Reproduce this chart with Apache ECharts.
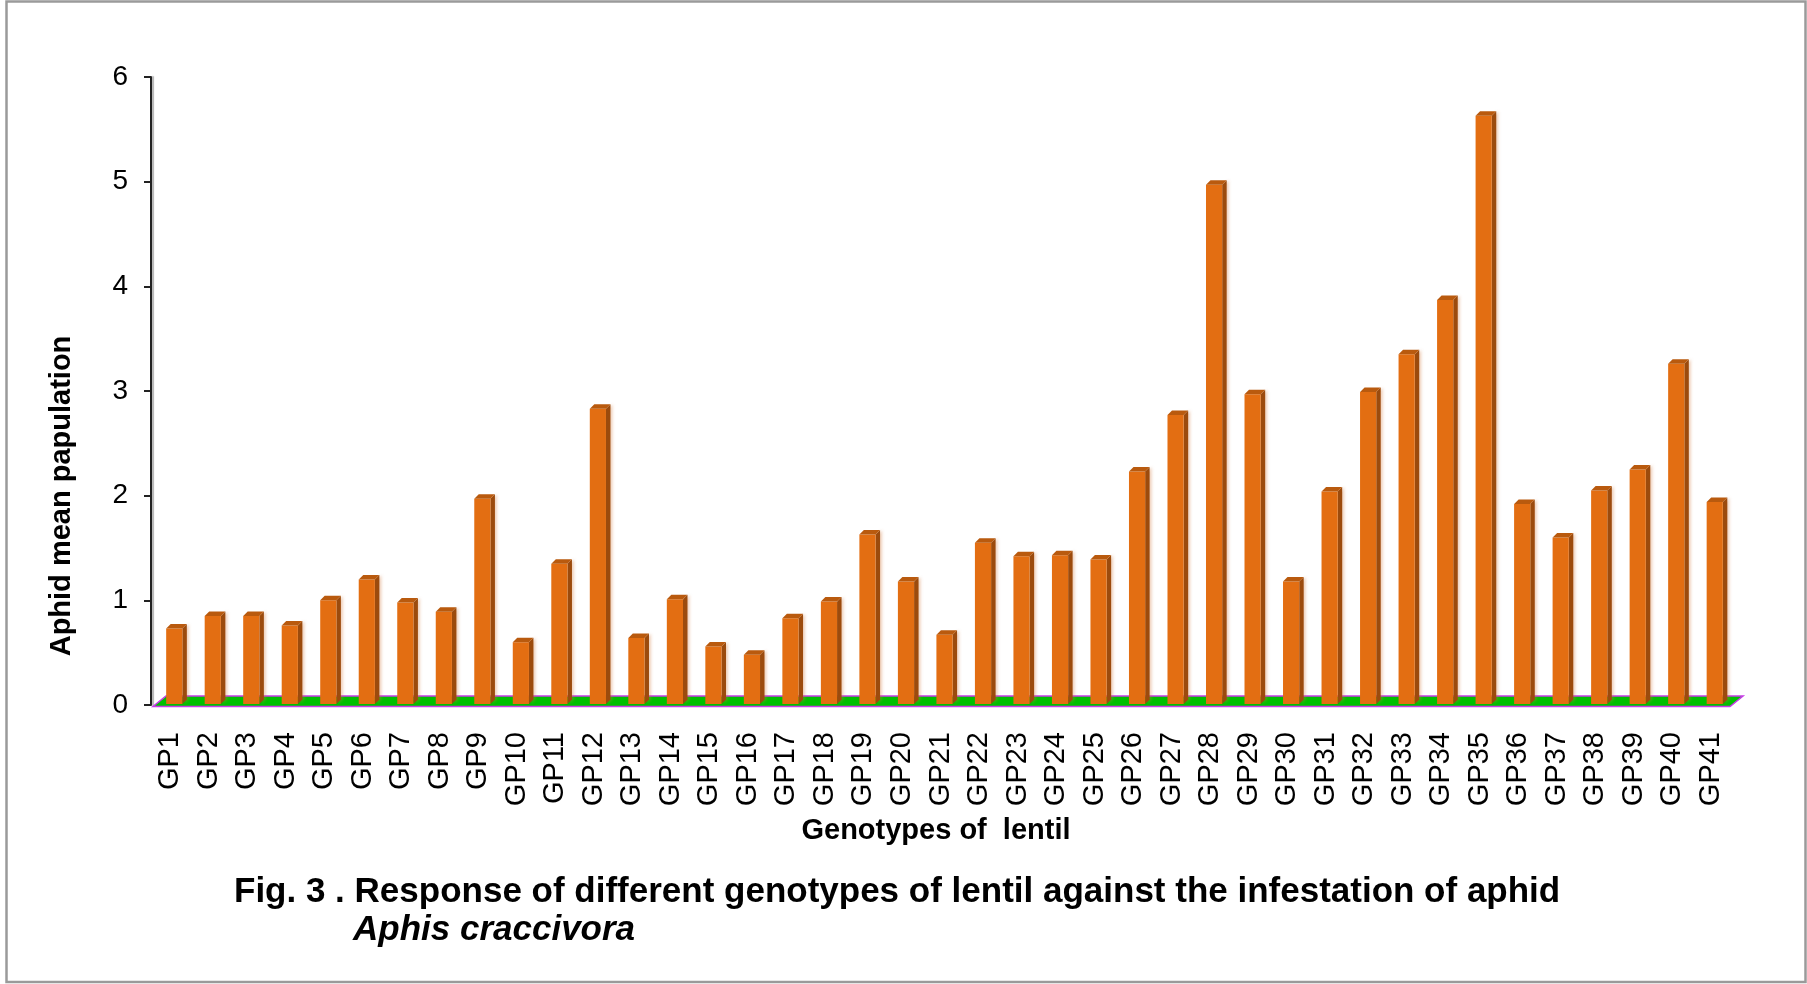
<!DOCTYPE html>
<html>
<head>
    <meta charset="utf-8">
    <title>Aphid mean population</title>
    <script src="https://cdn.jsdelivr.net/npm/echarts@6/dist/echarts.min.js"></script>
    <style>
        html, body { margin: 0; padding: 0; background: #fff; }
        #chart { width: 1807px; height: 984px; }
    </style>
</head>
<body>
<div id="chart"></div>
<script type="text/javascript">
    // genotypes of lentil
    var genotypes = ['GP1', 'GP2', 'GP3', 'GP4', 'GP5', 'GP6', 'GP7', 'GP8', 'GP9', 'GP10',
        'GP11', 'GP12', 'GP13', 'GP14', 'GP15', 'GP16', 'GP17', 'GP18', 'GP19', 'GP20',
        'GP21', 'GP22', 'GP23', 'GP24', 'GP25', 'GP26', 'GP27', 'GP28', 'GP29', 'GP30',
        'GP31', 'GP32', 'GP33', 'GP34', 'GP35', 'GP36', 'GP37', 'GP38', 'GP39', 'GP40', 'GP41'];
    // aphid mean population
    var aphidMean = [0.73, 0.85, 0.85, 0.76, 1.00, 1.20, 0.98, 0.89, 1.97, 0.60,
        1.35, 2.83, 0.64, 1.01, 0.56, 0.48, 0.83, 0.99, 1.63, 1.18,
        0.67, 1.55, 1.42, 1.43, 1.39, 2.23, 2.77, 4.97, 2.97, 1.18,
        2.04, 2.99, 3.35, 3.87, 5.63, 1.92, 1.60, 2.05, 2.25, 3.26, 1.94];
    var yTicks = [0, 1, 2, 3, 4, 5, 6];

    var font = "'Liberation Sans', Arial, sans-serif";
    var myChart = echarts.init(document.getElementById('chart'));

    // 3d looking bar: front face, side face, top face
    function renderBar(params, api) {
        var top = api.coord([api.value(0), api.value(1)]);
        var base = api.coord([api.value(0), 0]);
        var w = api.size([1, 0])[0] * 0.42;
        var d = 4.5;
        var xl = top[0] + 4 - w / 2;
        var xr = xl + w;
        var yt = top[1];
        var yb = base[1] - 1;
        return {
            type: 'group',
            children: [{
                type: 'polygon',
                shape: { points: [[xr, yt], [xr + d, yt - d], [xr + d, yb - d], [xr, yb]] },
                style: { fill: '#9c4b0d', shadowColor: 'rgba(210,120,60,0.35)', shadowBlur: 3, shadowOffsetX: 2 }
            }, {
                type: 'rect',
                shape: { x: xl, y: yt, width: w, height: yb - yt },
                style: { fill: '#e36e12' }
            }, {
                type: 'polygon',
                shape: { points: [[xl, yt], [xr, yt], [xr + d, yt - d], [xl + d, yt - d]] },
                style: { fill: '#b95a0e' }
            }]
        };
    }

    // green floor under the bars
    function renderFloor(params, api) {
        var cs = params.coordSys;
        var y0 = api.coord([0, 0])[1];
        return {
            type: 'polygon',
            shape: {
                points: [[cs.x + 2, y0 + 1.5], [cs.x + cs.width, y0 + 1.5],
                    [cs.x + cs.width + 13, y0 - 9], [cs.x + 15, y0 - 9]]
            },
            style: { fill: '#00bf00', stroke: '#c63ce6', lineWidth: 1.5 }
        };
    }

    myChart.setOption({
        backgroundColor: '#fff',
        animation: false,
        grid: { left: 151, right: 77, top: 77, bottom: 279 },
        xAxis: {
            type: 'category',
            data: genotypes,
            axisLine: { show: false },
            axisTick: { show: false },
            axisLabel: { rotate: 90, margin: 27, fontSize: 29, color: '#000', fontFamily: font, interval: 0 }
        },
        yAxis: {
            type: 'value',
            min: yTicks[0],
            max: yTicks[yTicks.length - 1],
            interval: 1,
            splitLine: { show: false },
            axisLine: { show: true, lineStyle: { color: '#222', width: 2, shadowColor: 'rgba(0,0,0,0.3)', shadowOffsetX: 2, shadowBlur: 1 } },
            axisTick: { show: true, inside: false, length: 7, lineStyle: { color: '#222', width: 2 } },
            axisLabel: { margin: 23, fontSize: 28, color: '#000', fontFamily: font }
        },
        graphic: [{
            type: 'rect',
            shape: { x: 6.5, y: 1.5, width: 1799, height: 980.5 },
            style: { fill: 'none', stroke: '#9a9a9a', lineWidth: 2.5 },
            silent: true
        }, {
            type: 'text',
            x: 62, y: 496,
            rotation: Math.PI / 2,
            style: { text: 'Aphid mean papulation', font: 'bold 29px ' + font, fill: '#000', align: 'center', verticalAlign: 'middle' }
        }, {
            type: 'text',
            x: 936, y: 831,
            style: { text: 'Genotypes of  lentil', font: 'bold 29px ' + font, fill: '#000', align: 'center', verticalAlign: 'middle' }
        }, {
            type: 'text',
            x: 234, y: 892,
            style: { text: 'Fig. 3 . Response of different genotypes of lentil against the infestation of aphid', font: 'bold 35px ' + font, fill: '#000', align: 'left', verticalAlign: 'middle' }
        }, {
            type: 'text',
            x: 353, y: 930,
            style: { text: 'Aphis craccivora', font: 'italic bold 35px ' + font, fill: '#000', align: 'left', verticalAlign: 'middle' }
        }],
        series: [{
            name: 'floor',
            type: 'custom',
            renderItem: renderFloor,
            data: [[0, 0]],
            silent: true,
            z: 1
        }, {
            name: 'Aphid mean papulation',
            type: 'custom',
            renderItem: renderBar,
            encode: { x: 0, y: 1 },
            data: aphidMean.map(function (v, i) { return [i, v]; }),
            z: 2
        }]
    });
</script>
</body>
</html>
